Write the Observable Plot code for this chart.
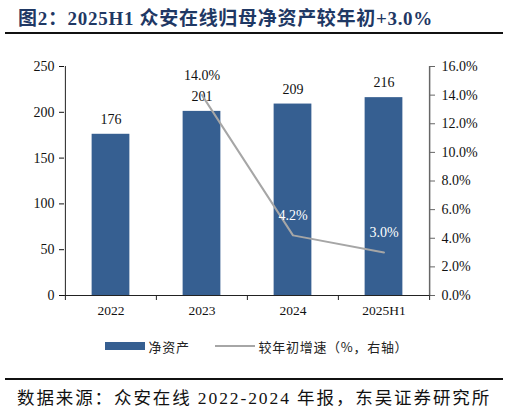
<!DOCTYPE html>
<html>
<head>
<meta charset="utf-8">
<script src="https://cdn.jsdelivr.net/npm/d3@7"></script>
<script src="https://cdn.jsdelivr.net/npm/@observablehq/plot@0.6"></script>
<style>
  body { margin: 0; background: #fff; }
  #wrap { position: relative; width: 509px; height: 414px; overflow: hidden; }
  .title { position: absolute; left: 18px; top: 3px; font: bold 19px "Liberation Serif", "Noto Sans CJK SC", serif; letter-spacing: 0.7px; color: #1f3864; white-space: nowrap; }
  .hr { position: absolute; left: 5px; width: 498px; background: #111; }
  #chart { position: absolute; left: 0; top: 40px; }
  .legend { position: absolute; top: 337px; font: 13px "Noto Sans CJK SC", sans-serif; letter-spacing: 0.7px; color: #222; white-space: nowrap; }
  .source { position: absolute; left: 17px; top: 384px; font: 17.5px "Liberation Serif", "Noto Sans CJK SC", serif; letter-spacing: 1.9px; color: #111; white-space: nowrap; }
</style>
</head>
<body>
<div id="wrap">
  <div class="title">图2：2025H1 众安在线归母净资产较年初+3.0%</div>
  <div class="hr" style="top:32px;height:2px"></div>
  <div id="chart"></div>
  <div class="legend" style="left:105px"><span style="display:inline-block;width:40px;height:8px;background:#365f91;vertical-align:2px"></span> 净资产</div>
  <div class="legend" style="left:215px"><span style="display:inline-block;width:40px;height:2px;background:#a6a6a6;vertical-align:5px"></span> 较年初增速（%，右轴）</div>
  <div class="hr" style="top:378px;height:2px"></div>
  <div class="source">数据来源：众安在线 2022-2024 年报，东吴证券研究所</div>
</div>
<script>
const years = ['2022', '2023', '2024', '2025H1']
const netAssets = [176, 201, 209, 216]
const growthYears = ['2023', '2024', '2025H1']
const growth = [14.0, 4.2, 3.0]

const yMax = 250
const pMax = 16
const toY = p => p * yMax / pMax   // percent -> left axis units

const bars = years.map((d, i) => ({year: d, value: netAssets[i]}))
const line = growthYears.map((d, i) => ({year: d, pct: growth[i]}))

const width = 509, mL = 64, mR = 80
const step = (width - mL - mR) / years.length
const barW = 38

const serif = '"Liberation Serif", "Times New Roman", serif'

const chart = Plot.plot({
  width: width,
  height: 285,
  marginLeft: mL,
  marginRight: mR,
  marginTop: 26,
  marginBottom: 30,
  style: {fontFamily: serif, fontSize: '14px', color: '#111', background: 'transparent'},
  x: {domain: years, padding: 0, label: null},
  y: {domain: [0, yMax], label: null},
  marks: [
    Plot.barY(bars, {x: 'year', y: 'value', fill: '#365f91',
      insetLeft: (step - barW) / 2, insetRight: (step - barW) / 2}),
    Plot.text(bars, {x: 'year', y: 'value', text: d => String(d.value), dy: -15, fill: '#111', fontSize: 14}),
    Plot.line(line, {x: 'year', y: d => toY(d.pct), stroke: '#a6a6a6', strokeWidth: 2}),
    Plot.text(line, {x: 'year', y: d => toY(d.pct), text: d => d.pct.toFixed(1) + '%', dy: -20, fontSize: 14,
      fill: d => d.year === '2023' ? '#111' : '#fff'}),
    // left axis
    Plot.axisY({anchor: 'left', ticks: d3.range(0, 251, 50), tickSize: 5, tickPadding: 5,
      tickFormat: d => d, fontSize: 14, label: null}),
    Plot.ruleX([years[0]], {dx: -step / 2, y1: 0, y2: yMax, stroke: '#222'}),
    // right axis (percent)
    Plot.axisY({anchor: 'right', ticks: d3.range(0, pMax + 0.1, 2).map(toY), tickSize: 5, tickPadding: 7,
      tickFormat: d => (d * pMax / yMax).toFixed(1) + '%', stroke: '#666', fontSize: 14, label: null}),
    Plot.ruleX([years[years.length - 1]], {dx: step / 2, y1: 0, y2: yMax, stroke: '#666', strokeWidth: 1.5}),
    // bottom axis
    Plot.axisX({tickSize: 0, tickPadding: 10, fontSize: 13.5, label: null}),
    Plot.ruleY([0], {stroke: '#222'}),
    Plot.ruleX(years, {x: d => d, dx: -step / 2, y1: 0, y2: -5 * yMax / 229, stroke: '#222'}),
    Plot.ruleX([years[years.length - 1]], {dx: step / 2, y1: 0, y2: -5 * yMax / 229, stroke: '#222'})
  ]
})

document.getElementById('chart').append(chart)
</script>
</body>
</html>
